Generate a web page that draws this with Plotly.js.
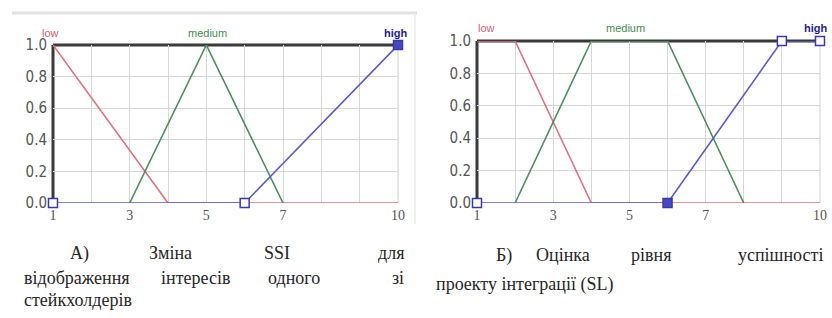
<!DOCTYPE html>
<html>
<head>
<meta charset="utf-8">
<script src="https://cdn.plot.ly/plotly-3.0.1.min.js"></script>
<style>html,body{margin:0;padding:0;background:#fff;}#chart{width:832px;height:318px;}</style>
</head>
<body>
<div id="chart"></div>
<script>
// ---- data ----
const xTickVals = [1,2,3,4,5,6,7,8,9,10];
const xTickText = ['1','','3','','5','','7','','','10'];
const yTickVals = [0,0.2,0.4,0.6,0.8,1.0];
const yTickText = ['0.0','0.2','0.4','0.6','0.8','1.0'];

const termNames = ['low','medium','high'];

// Chart A: SSI
const aLowX = [1,4,10],      aLowY = [1,0,0];
const aMedX = [3,5,7],       aMedY = [0,1,0];
const aHighX = [1,6,10],     aHighY = [0,0,1];

// Chart B: SL
const bLowX = [1,2,4,10],    bLowY = [1,1,0,0];
const bMedX = [2,4,6,8],     bMedY = [0,1,1,0];
const bHighX = [1,6,9,10],   bHighY = [0,0,1,1];

const captionA1 = ['А)','Зміна','SSI','для'];
const captionA2 = ['відображення','інтересів','одного','зі'];
const captionA3 = ['стейкхолдерів'];
const captionB1 = ['Б)','Оцінка','рівня','успішності'];
const captionB2 = ['проекту інтеграції (SL)'];

// ---- style ----
const W = 832, H = 318;
const px = v => v / W;
const py = v => 1 - v / H;
const RED = '#e0707e', GREEN = '#4a8f5a', BLUE = '#5b5bc8';
const yTickFont = {family: 'Liberation Sans Narrow, DejaVu Sans Condensed, Liberation Sans, sans-serif', size: 15, color: '#555'};
const xTickFont = {family: 'Liberation Serif, Times New Roman, serif', size: 14, color: '#555'};

function lineTrace(x, y, color, xa, ya) {
  return {x: x, y: y, xaxis: xa, yaxis: ya, type: 'scatter', mode: 'lines',
          line: {color: color, width: 1.6}, hoverinfo: 'skip', showlegend: false, cliponaxis: false};
}
function highTrace(x, y, filledIdx, xa, ya) {
  return {x: x, y: y, xaxis: xa, yaxis: ya, type: 'scatter', mode: 'lines+markers',
          line: {color: BLUE, width: 1.6},
          marker: {symbol: 'square', size: 9,
                   color: x.map((_, i) => i === filledIdx ? '#4848c0' : '#ffffff'),
                   line: {color: '#3838b0', width: 1.5}},
          hoverinfo: 'skip', showlegend: false, cliponaxis: false};
}

const data = [
  lineTrace(aLowX, aLowY, RED, 'x', 'y'),
  lineTrace(aMedX, aMedY, GREEN, 'x', 'y'),
  highTrace(aHighX, aHighY, 2, 'x', 'y'),
  lineTrace(bLowX, bLowY, RED, 'x2', 'y2'),
  lineTrace(bMedX, bMedY, GREEN, 'x2', 'y2'),
  highTrace(bHighX, bHighY, 1, 'x2', 'y2')
];

function xAxis(dom, anchor) {
  return {domain: dom, anchor: anchor, range: [1, 10], tickvals: xTickVals, ticktext: xTickText,
          showgrid: true, gridcolor: '#d6d6d6', gridwidth: 1, zeroline: false, showline: false,
          ticks: '', tickfont: xTickFont, ticklabelstandoff: 2, fixedrange: true};
}
function yAxis(dom, anchor) {
  return {domain: dom, anchor: anchor, range: [0, 1], tickvals: yTickVals, ticktext: yTickText,
          showgrid: true, gridcolor: '#d6d6d6', gridwidth: 1, zeroline: false, showline: false,
          ticks: '', tickfont: yTickFont, ticklabelstandoff: 5, fixedrange: true};
}

const shapes = [];
[['x','y'],['x2','y2']].forEach(([xa, ya]) => {
  shapes.push({type: 'line', xref: xa + ' domain', yref: ya + ' domain', x0: 0, x1: 1, y0: 1, y1: 1,
               line: {color: '#3a3a3a', width: 3}, layer: 'below'});
  shapes.push({type: 'line', xref: xa + ' domain', yref: ya + ' domain', x0: 0, x1: 0, y0: 0, y1: 1,
               line: {color: '#3a3a3a', width: 3}, layer: 'below'});
  shapes.push({type: 'line', xref: xa + ' domain', yref: ya + ' domain', x0: 1, x1: 1, y0: 0, y1: 1,
               line: {color: '#cfcfcf', width: 1}, layer: 'below'});
});
// light frame bits from the screenshot
shapes.push({type: 'line', xref: 'paper', yref: 'paper', x0: px(12), x1: px(417), y0: py(13), y1: py(13),
             line: {color: '#e2e2e2', width: 3}});
shapes.push({type: 'line', xref: 'paper', yref: 'paper', x0: px(415), x1: px(415), y0: py(14), y1: py(224),
             line: {color: '#efefef', width: 2}});

const annotations = [];
const termFont = c => ({family: 'Liberation Sans, Arial, sans-serif', size: 11, color: c});
function term(text, x, y, anchor, color, bold) {
  annotations.push({text: bold ? '<b>' + text + '</b>' : text, xref: 'paper', yref: 'paper',
                    x: px(x), y: py(y), xanchor: anchor, yanchor: 'middle', showarrow: false,
                    font: termFont(color)});
}
term(termNames[0], 40, 33, 'left', '#d86070', false);
term(termNames[1], 207, 33, 'center', '#3f8a4f', false);
term(termNames[2], 409, 33, 'right', '#1c1c9a', true);
term(termNames[0], 476, 28, 'left', '#d86070', false);
term(termNames[1], 625, 28, 'center', '#3f8a4f', false);
term(termNames[2], 829, 28, 'right', '#1c1c9a', true);

const capFont = {family: 'Liberation Serif, Times New Roman, serif', size: 18, color: '#262626'};
function words(list, positions, y) {
  list.forEach((w, i) => {
    const p = positions[i];
    annotations.push({text: w, xref: 'paper', yref: 'paper', x: px(p[0]), y: py(y),
                      xanchor: p[1], yanchor: 'middle', showarrow: false, font: capFont});
  });
}
words(captionA1, [[68,'left'],[170,'center'],[277,'center'],[406,'right']], 253);
words(captionA2, [[22,'left'],[195,'center'],[294,'center'],[406,'right']], 278);
words(captionA3, [[22,'left']], 300);
words(captionB1, [[494,'left'],[563,'center'],[651,'center'],[825,'right']], 255);
words(captionB2, [[434,'left']], 284);

const layout = {
  width: W, height: H, margin: {l: 0, r: 0, t: 0, b: 0},
  paper_bgcolor: '#ffffff', plot_bgcolor: '#ffffff', showlegend: false,
  xaxis: xAxis([px(53), px(398)], 'y'),
  yaxis: yAxis([py(203), py(45)], 'x'),
  xaxis2: xAxis([px(477), px(820)], 'y2'),
  yaxis2: yAxis([py(203), py(41)], 'x2'),
  shapes: shapes, annotations: annotations
};

Plotly.newPlot('chart', data, layout, {displayModeBar: false, staticPlot: true});
</script>
</body>
</html>
